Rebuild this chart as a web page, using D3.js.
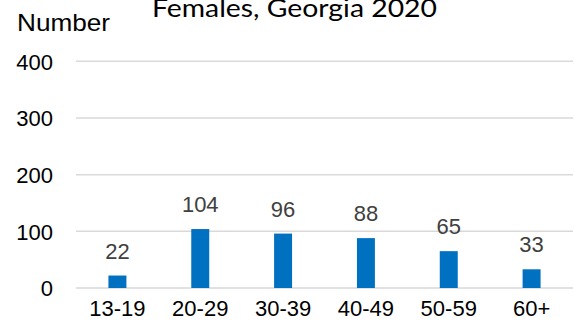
<!DOCTYPE html>
<html><head><meta charset="utf-8">
<script src="https://cdn.jsdelivr.net/npm/d3@7"></script>
<style>body{margin:0;background:#fff}svg{display:block}</style>
</head><body>
<svg id="c" width="574" height="329"></svg>
<script>
const categories = ["13-19","20-29","30-39","40-49","50-59","60+"];
const values = [22,104,96,88,65,33];
const yTicks = [0,100,200,300,400];
const title = "Females, Georgia 2020";
const yTitle = "Number";

const svg = d3.select("#c");
const x = d3.scaleBand().domain(categories).range([76,573]).paddingInner(0.783).paddingOuter(0.3915);
const y = d3.scaleLinear().domain([0,400]).range([288,61.3]);
const sans = "'Liberation Sans', Arial, sans-serif";

// gridlines
svg.append("g").selectAll("line").data(yTicks).join("line")
  .attr("x1",76).attr("x2",573)
  .attr("y1",d=>y(d)).attr("y2",d=>y(d))
  .attr("stroke","#d9d9d9").attr("stroke-width",1.5);

// y axis labels
const yAxis = d3.axisLeft(y).tickValues(yTicks).tickSize(0).tickPadding(0);
const ga = svg.append("g").attr("transform","translate(53,0)").call(yAxis);
ga.select(".domain").remove();
ga.selectAll("text").attr("font-family",sans).attr("font-size",22).attr("fill","#000").attr("dy","0.35em");

// x axis labels
const xAxis = d3.axisBottom(x).tickSize(0).tickPadding(0);
const gx = svg.append("g").attr("transform","translate(0,300)").call(xAxis);
gx.select(".domain").remove();
gx.selectAll("text").attr("font-family",sans).attr("font-size",22).attr("fill","#000").attr("dy","0.71em");

// bars
svg.append("g").selectAll("rect").data(values).join("rect")
  .attr("x",(d,i)=>x(categories[i]))
  .attr("width",x.bandwidth())
  .attr("y",d=>y(d))
  .attr("height",d=>y(0)-y(d))
  .attr("fill","#0070C0");

// data labels
svg.append("g").selectAll("text").data(values).join("text")
  .attr("x",(d,i)=>x(categories[i])+x.bandwidth()/2)
  .attr("y",d=>y(d)-17)
  .attr("text-anchor","middle")
  .attr("font-family",sans).attr("font-size",22).attr("fill","#404040")
  .text(d=>d);

// y title
svg.append("text").attr("x",17).attr("y",31)
  .attr("font-family",sans).attr("font-size",24).attr("fill","#000")
  .attr("textLength",93).attr("lengthAdjust","spacingAndGlyphs")
  .text(yTitle);

// chart title
svg.append("text").attr("x",152).attr("y",17)
  .attr("font-family","Lato, 'Open Sans', sans-serif").attr("font-size",25).attr("fill","#000")
  .attr("textLength",285).attr("lengthAdjust","spacingAndGlyphs")
  .text(title);
</script>
</body></html>
